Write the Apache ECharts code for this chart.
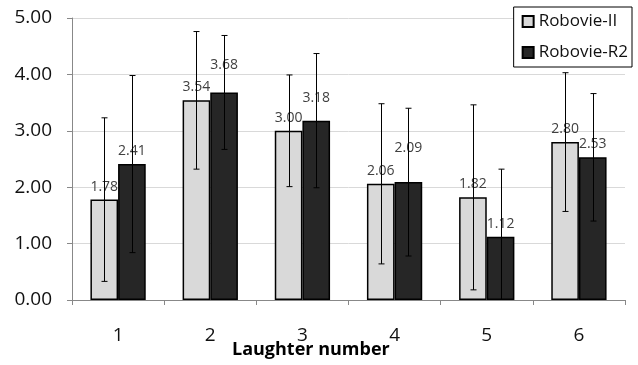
<!DOCTYPE html>
<html><head><meta charset="utf-8">
<script src="https://cdn.jsdelivr.net/npm/echarts@6/dist/echarts.min.js"></script>
<style>html,body{margin:0;padding:0;background:#fff}#c{width:638px;height:365px}</style>
</head><body><div id="c"></div>
<script>
const categories = ['1','2','3','4','5','6'];
const roboII = [1.78, 3.54, 3.00, 2.06, 1.82, 2.80];
const roboR2 = [2.41, 3.68, 3.18, 2.09, 1.12, 2.53];
const errII = [1.45, 1.22, 0.99, 1.42, 1.64, 1.23];
const errR2 = [1.57, 1.01, 1.19, 1.31, 1.20, 1.13];
const seriesNames = ['Robovie-II', 'Robovie-R2'];
const yTicks = [0, 1, 2, 3, 4, 5];

// extra upward shift (px) of some value labels, as placed in the original
const labelLiftR2 = [0, 14, 10, 21, 0, 0];

const FONT = '"Open Sans"';
const BAR_FRAC = 0.30;

function errorSeries(name, means, errs, side) {
  return {
    type: 'custom', name: name + ' err', z: 5, silent: true,
    data: means.map((m, i) => [i, m, errs[i]]),
    renderItem: function (params, api) {
      const i = api.value(0), m = api.value(1), e = api.value(2);
      const band = api.size([1, 0])[0];
      const off = side * band * BAR_FRAC / 2;
      const clipped = m - e < 0;
      const top = api.coord([i, m + e]);
      const bot = api.coord([i, Math.max(0, m - e)]);
      const x = Math.round(top[0] + off) + 0.5;
      const cap = 3;
      const style = { stroke: '#000', lineWidth: 1 };
      const kids = [
        { type: 'line', shape: { x1: x, y1: top[1], x2: x, y2: bot[1] }, style },
        { type: 'line', shape: { x1: x - cap, y1: top[1], x2: x + cap, y2: top[1] }, style }
      ];
      if (!clipped) kids.push({ type: 'line', shape: { x1: x - cap, y1: bot[1], x2: x + cap, y2: bot[1] }, style });
      return { type: 'group', children: kids };
    }
  };
}

const labelBase = { show: true, position: 'top', distance: 6, fontFamily: FONT, fontSize: 14, color: '#404040',
  formatter: p => p.value.toFixed(2) };

const chart = echarts.init(document.getElementById('c'));
chart.setOption({
  animation: false,
  textStyle: { fontFamily: FONT },
  grid: { left: 72, right: 13, top: 18, bottom: 65 },
  legend: {
    data: seriesNames,
    orient: 'vertical', right: 6, top: 7,
    backgroundColor: '#fff', borderColor: '#000', borderWidth: 1,
    padding: [6, 4, 6, 8], itemGap: 14,
    itemWidth: 11, itemHeight: 11, icon: 'rect',
    textStyle: { fontFamily: FONT, fontSize: 17, color: '#111' }
  },
  xAxis: {
    type: 'category', data: categories,
    axisLine: { lineStyle: { color: '#888' } },
    axisTick: { show: true, length: 5, lineStyle: { color: '#888' } },
    axisLabel: { fontFamily: FONT, fontSize: 19, color: '#111', margin: 26 }
  },
  yAxis: {
    type: 'value', min: yTicks[0], max: yTicks[yTicks.length - 1], interval: 1,
    axisLine: { show: true, lineStyle: { color: '#888' } },
    axisTick: { show: true, length: 5, lineStyle: { color: '#888' } },
    splitLine: { lineStyle: { color: '#d9d9d9' } },
    axisLabel: { fontFamily: FONT, fontSize: 19, color: '#111', margin: 20,
      formatter: v => v.toFixed(2) }
  },
  graphic: [{
    type: 'text', left: 232, top: 341,
    style: { text: 'Laughter number', fontFamily: FONT, fontSize: 18, fontWeight: 'bold', fill: '#000' }
  }],
  series: [
    { type: 'bar', name: seriesNames[0], data: roboII, barWidth: (BAR_FRAC * 100) + '%', barGap: '0%',
      itemStyle: { color: '#d9d9d9', borderColor: '#000', borderWidth: 1.5 },
      label: labelBase },
    { type: 'bar', name: seriesNames[1],
      data: roboR2.map((v, i) => ({ value: v, label: { offset: [0, -labelLiftR2[i]] } })),
      barWidth: (BAR_FRAC * 100) + '%', barGap: '0%',
      itemStyle: { color: '#262626', borderColor: '#000', borderWidth: 1.5 },
      label: labelBase },
    errorSeries(seriesNames[0], roboII, errII, -1),
    errorSeries(seriesNames[1], roboR2, errR2, 1)
  ]
});
</script></body></html>
